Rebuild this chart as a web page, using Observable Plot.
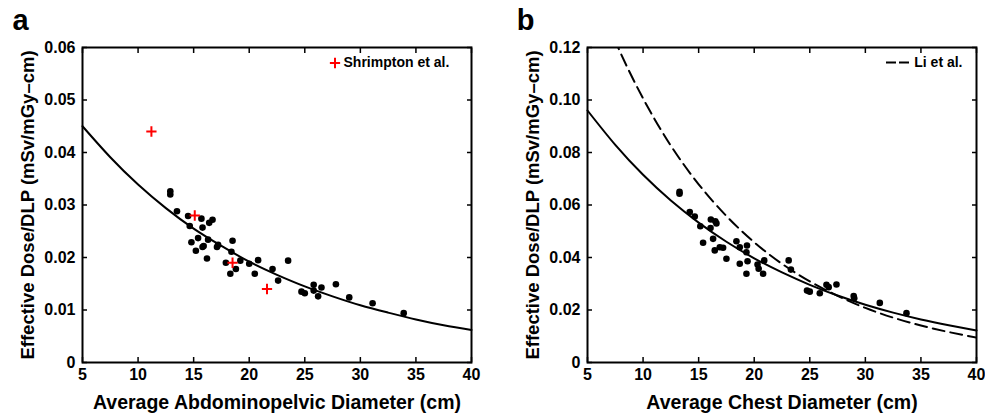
<!DOCTYPE html>
<html><head><meta charset="utf-8">
<script src="https://cdn.jsdelivr.net/npm/d3@7"></script>
<script src="https://cdn.jsdelivr.net/npm/@observablehq/plot@0.6"></script>
<style>
body{margin:0;background:#fff;font-family:"Liberation Sans",Arial,sans-serif;}
#wrap{position:relative;width:985px;height:415px;overflow:hidden;background:#fff}
#wrap svg{position:absolute;top:0}
</style></head><body><div id="wrap"></div>
<script>
// ---------- data ----------
const xTicks = [5, 10, 15, 20, 25, 30, 35, 40];
const yTicksA = [0, 0.01, 0.02, 0.03, 0.04, 0.05, 0.06];
const yTicksB = [0, 0.02, 0.04, 0.06, 0.08, 0.10, 0.12];

// panel a: abdominopelvic
const abdX = [12.9, 12.9, 13.5, 14.5, 15.7, 16.4, 16.7, 14.65, 15.8, 14.8, 15.4, 16.3, 15.2, 15.8, 15.9, 17.2, 17.1, 16.2, 18.5, 18.4, 17.9, 18.8, 18.3, 19.2, 20.0, 20.8, 20.5, 22.1, 22.6, 23.5, 24.7, 25.0, 25.8, 25.8, 26.2, 26.5, 27.8, 29.0, 31.1, 33.9];
const abdY = [0.0320, 0.0326, 0.0288, 0.0279, 0.0274, 0.0266, 0.0272, 0.0260, 0.0257, 0.0229, 0.0237, 0.0234, 0.0213, 0.0220, 0.0222, 0.0224, 0.0220, 0.0198, 0.0232, 0.0211, 0.0190, 0.0178, 0.0169, 0.0194, 0.0188, 0.0195, 0.0169, 0.0178, 0.0156, 0.0194, 0.0135, 0.0132, 0.0148, 0.0137, 0.0126, 0.0143, 0.0149, 0.0124, 0.0113, 0.0094];
const shrimptonX = [11.2, 15.1, 18.5, 21.6];
const shrimptonY = [0.044, 0.028, 0.019, 0.014];

// fitted curves read at these diameters
const fitX = [5, 7.5, 10, 12.5, 15, 17.5, 20, 22.5, 25, 27.5, 30, 32.5, 35, 37.5, 40];
const abdFit = [0.0450, 0.0391, 0.0339, 0.0294, 0.0255, 0.0222, 0.0192, 0.0167, 0.0145, 0.0126, 0.0109, 0.0095, 0.0082, 0.0071, 0.0062];

// panel b: chest
const chestX = [13.28, 13.28, 14.2, 14.65, 15.15, 15.4, 16.07, 16.1, 16.5, 16.6, 16.3, 16.45, 16.9, 17.2, 18.4, 18.7, 19.35, 19.3, 17.5, 18.7, 19.4, 19.3, 20.3, 20.4, 20.9, 20.8, 23.1, 23.3, 24.75, 25.0, 25.9, 26.5, 26.7, 27.4, 28.95, 29.0, 31.3, 33.7];
const chestY = [0.0643, 0.0650, 0.0573, 0.0556, 0.0519, 0.0456, 0.0512, 0.0545, 0.0538, 0.0530, 0.0471, 0.0427, 0.0439, 0.0437, 0.0462, 0.0439, 0.0446, 0.0420, 0.0395, 0.0376, 0.0386, 0.0338, 0.0373, 0.0357, 0.0389, 0.0338, 0.0389, 0.0354, 0.0274, 0.0270, 0.0264, 0.0296, 0.0287, 0.0297, 0.0253, 0.0245, 0.0227, 0.0188];
const chestFit = [0.0960, 0.0829, 0.0715, 0.0617, 0.0533, 0.0460, 0.0397, 0.0343, 0.0296, 0.0255, 0.0220, 0.0190, 0.0164, 0.0142, 0.0122];
const liFit = [0.1491, 0.1225, 0.1006, 0.0826, 0.0679, 0.0558, 0.0458, 0.0376, 0.0309, 0.0254, 0.0208, 0.0171, 0.0141, 0.0116, 0.0095];

// ---------- helpers ----------
const toPts = (xs, ys) => xs.map((x, i) => ({x, y: ys[i]}));
const yFmt = d => d === 0 ? "0" : d3.format(".2f")(d);
const FONT = "Liberation Sans, Arial, Helvetica, sans-serif";

function panel({width, marginLeft, marginRight, yDomain, yTicks, letter, xLabel, yLabel, marks}) {
  return Plot.plot({
    width, height: 415,
    marginTop: 47, marginBottom: 53, marginLeft, marginRight,
    x: {domain: [5, 40]},
    y: {domain: yDomain},
    style: {fontFamily: FONT, fontSize: "16px", fontWeight: "bold", color: "black", background: "white", overflow: "visible"},
    marks: [
      ...marks,
      Plot.frame({stroke: "black", strokeWidth: 2}),
      Plot.axisX(xTicks, {anchor: "bottom", tickSize: -5, tickPadding: 11, strokeWidth: 1.5, label: null, fontSize: 16}),
      Plot.axisX(xTicks, {anchor: "top", tickSize: -5, strokeWidth: 1.5, label: null, tickFormat: () => ""}),
      Plot.axisY(yTicks, {anchor: "left", tickSize: -5, tickPadding: 12, strokeWidth: 1.5, label: null, tickFormat: yFmt, fontSize: 16}),
      Plot.axisY(yTicks, {anchor: "right", tickSize: -5, strokeWidth: 1.5, label: null, tickFormat: () => ""}),
      Plot.text([xLabel], {text: d => d, frameAnchor: "bottom", textAnchor: "middle", lineAnchor: "bottom", dy: 46, fontSize: 19.5, fontWeight: "bold"}),
      Plot.text([yLabel], {text: d => d, frameAnchor: "left", textAnchor: "middle", lineAnchor: "middle", rotate: -90, dx: -54, fontSize: 18.5, fontWeight: "bold"}),
      Plot.text([letter], {text: d => d, frameAnchor: "top-left", textAnchor: "middle", lineAnchor: "bottom", dx: -62, dy: -18, fontSize: 29, fontWeight: "bold"})
    ]
  });
}

const wrap = document.getElementById("wrap");

// ---------- panel a ----------
const a = panel({
  width: 492, marginLeft: 82, marginRight: 21,
  yDomain: [0, 0.06], yTicks: yTicksA, letter: "a",
  xLabel: "Average Abdominopelvic Diameter (cm)",
  yLabel: "Effective Dose/DLP (mSv/mGy\u2013cm)",
  marks: [
    Plot.line(toPts(fitX, abdFit), {x: "x", y: "y", stroke: "black", strokeWidth: 2, curve: "natural"}),
    Plot.dot(toPts(abdX, abdY), {x: "x", y: "y", r: 3.3, fill: "black", stroke: "none"}),
    Plot.dot(toPts(shrimptonX, shrimptonY), {x: "x", y: "y", symbol: "plus", r: 3.4, stroke: "#ff0000", strokeWidth: 2}),
    // legend
    Plot.dot(["Shrimpton et al."], {frameAnchor: "top-right", dx: -136.5, dy: 15.5, symbol: "plus", r: 3.4, stroke: "#ff0000", strokeWidth: 2}),
    Plot.text(["Shrimpton et al."], {text: d => d, frameAnchor: "top-right", dx: -128, dy: 15.5, textAnchor: "start", lineAnchor: "middle", fontSize: 14, fontWeight: "bold"})
  ]
});
a.style.left = "0px";
wrap.appendChild(a);

// ---------- panel b ----------
const b = panel({
  width: 493, marginLeft: 95, marginRight: 9,
  yDomain: [0, 0.12], yTicks: yTicksB, letter: "b",
  xLabel: "Average Chest Diameter (cm)",
  yLabel: "Effective Dose/DLP (mSv/mGy\u2013cm)",
  marks: [
    Plot.line(toPts(fitX, chestFit), {x: "x", y: "y", stroke: "black", strokeWidth: 2, curve: "natural"}),
    Plot.line(toPts(fitX, liFit), {x: "x", y: "y", stroke: "black", strokeWidth: 2, strokeDasharray: "12,6", curve: "natural", clip: true}),
    Plot.dot(toPts(chestX, chestY), {x: "x", y: "y", r: 3.3, fill: "black", stroke: "none"}),
    // legend
    Plot.text(["Li et al."], {text: d => d, frameAnchor: "top-right", dx: -14, dy: 15.5, textAnchor: "end", lineAnchor: "middle", fontSize: 14, fontWeight: "bold"})
  ]
});
b.style.left = "492px";
wrap.appendChild(b);

// legend line sample for the dashed curve (panel b)
{
  const sx = b.scale("x"), sy = b.scale("y");
  const right = sx.range[1], top = sy.range[1];
  d3.select(b).append("line")
    .attr("x1", right - 90).attr("x2", right - 67)
    .attr("y1", top + 15.5).attr("y2", top + 15.5)
    .attr("stroke", "black").attr("stroke-width", 2).attr("stroke-dasharray", "10,3");
}
</script></body></html>
